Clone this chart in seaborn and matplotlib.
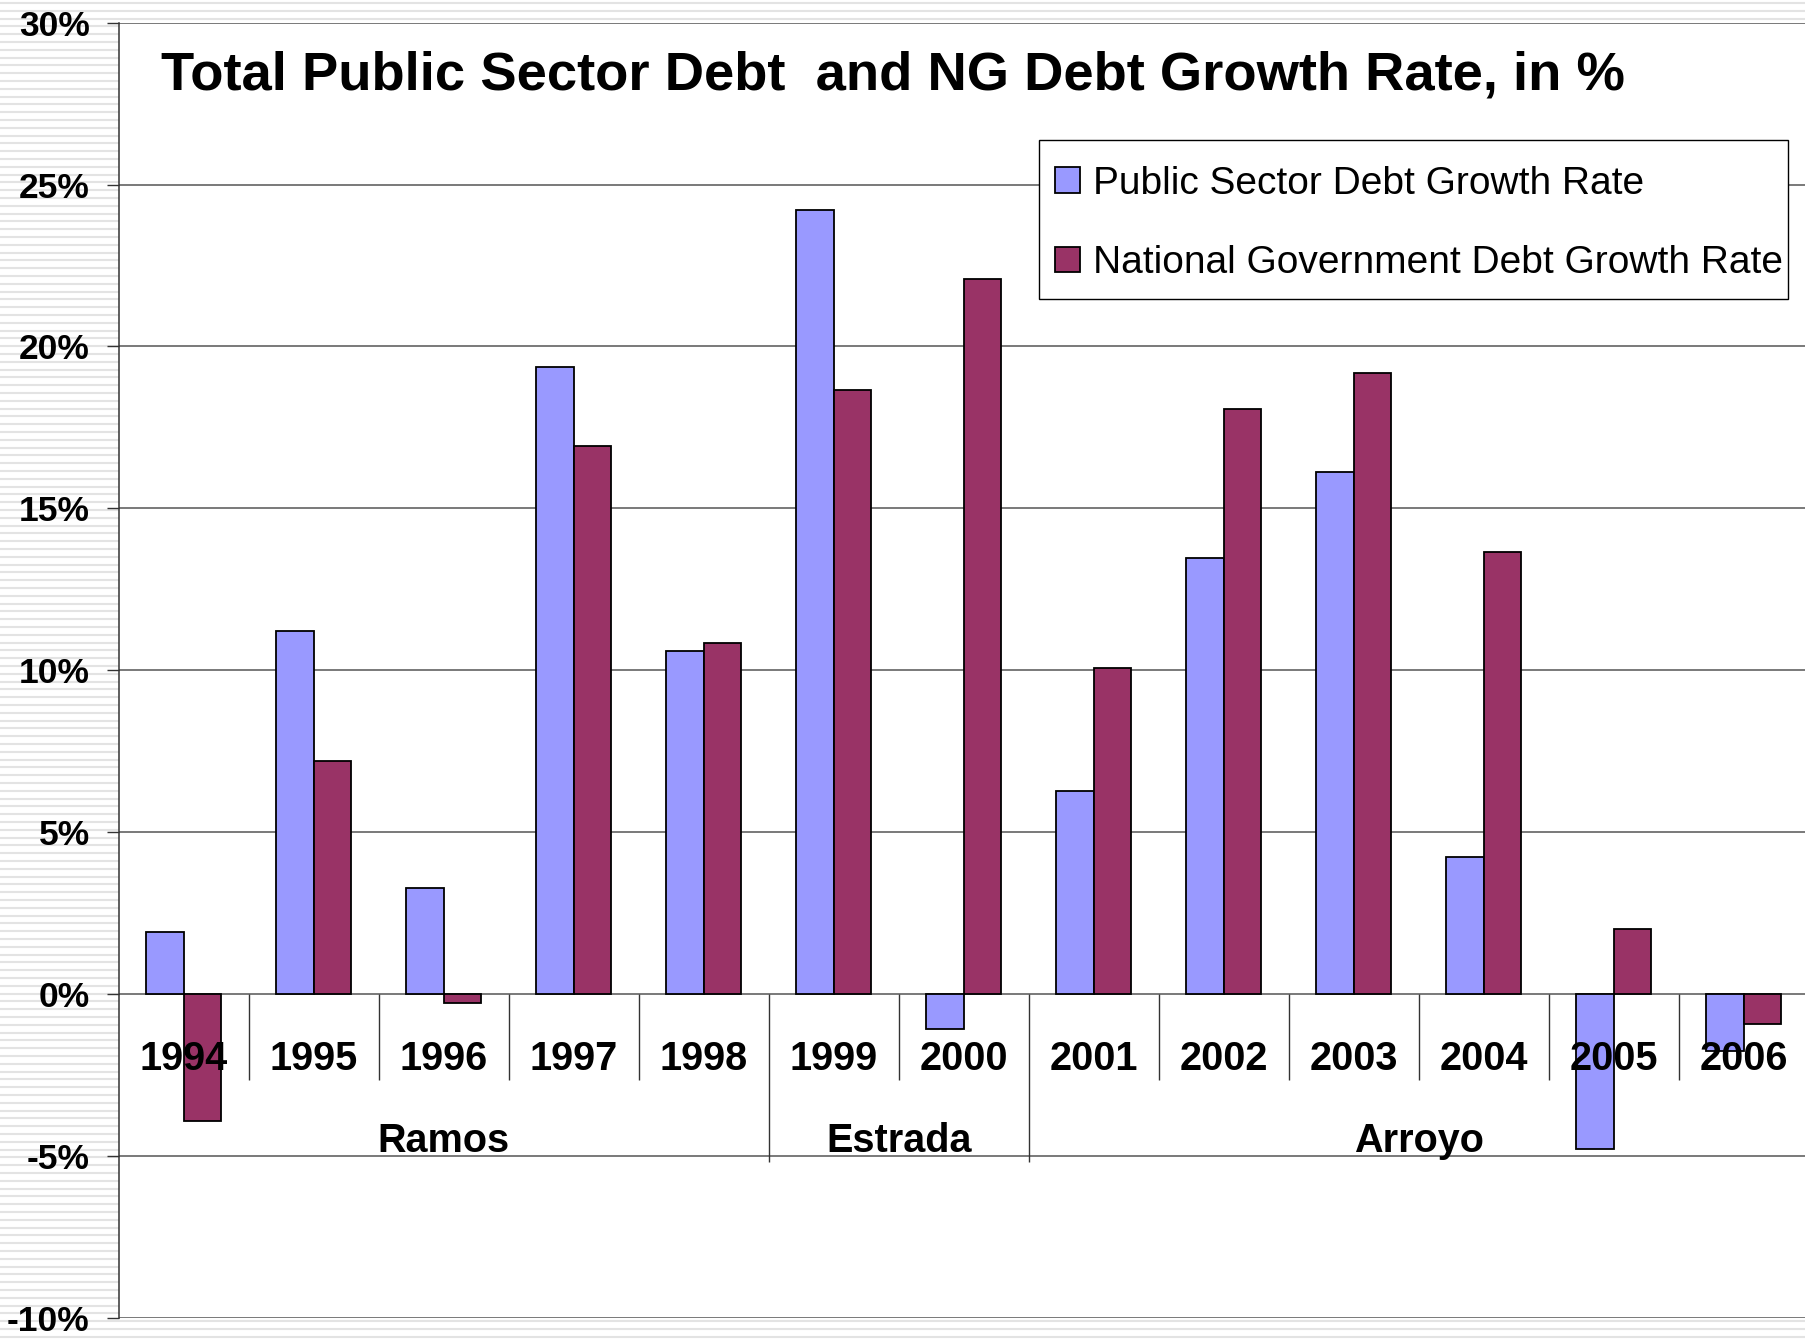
import numpy as np
import pandas as pd
import matplotlib
matplotlib.use("Agg")
import matplotlib.pyplot as plt
import seaborn as sns
from matplotlib.patches import Rectangle
from matplotlib.ticker import FuncFormatter, MultipleLocator

# ---- data -------------------------------------------------------------
years = ["1994", "1995", "1996", "1997", "1998", "1999", "2000",
         "2001", "2002", "2003", "2004", "2005", "2006"]
public_sector_growth = [1.90, 11.22, 3.28, 19.36, 10.58, 24.20, -1.09,
                        6.27, 13.46, 16.13, 4.24, -4.79, -1.77]
national_gov_growth = [-3.92, 7.20, -0.28, 16.94, 10.83, 18.65, 22.07,
                       10.08, 18.08, 19.19, 13.64, 2.01, -0.94]
series_names = ["Public Sector Debt Growth Rate",
                "National Government Debt Growth Rate"]
administrations = ["Ramos", "Estrada", "Arroyo"]
years_per_term = [5, 2, 6]
title = "Total Public Sector Debt  and NG Debt Growth Rate, in %"

df = pd.DataFrame({
    "Year": years * 2,
    "Series": [series_names[0]] * len(years) + [series_names[1]] * len(years),
    "Rate": public_sector_growth + national_gov_growth,
})

# ---- style ------------------------------------------------------------
sns.set_theme(style="white")
plt.rcParams["font.family"] = ["Liberation Sans", "DejaVu Sans"]
plt.rcParams["text.color"] = "black"
plt.rcParams["ytick.color"] = "black"
plt.rcParams["xtick.color"] = "black"

W, H = 1806, 1340
fig = plt.figure(figsize=(W / 100, H / 100), dpi=100)
fig.patch.set_facecolor("white")

# striped slide background
bg = fig.add_axes([0, 0, 1, 1], zorder=-10)
bg.set_xlim(0, 1)
bg.set_ylim(H, 0)
bg.axis("off")
bg.hlines(np.arange(3.0, H, 7.8), 0, 1, color="#e3e3e3", lw=1.5)

# plot area in pixel geometry
left_px, top_px, bottom_px, right_px = 118.7, 22.7, 1317.7, 1808.7
ax = fig.add_axes([left_px / W, (H - bottom_px) / H,
                   (right_px - left_px) / W, (bottom_px - top_px) / H])
ax.set_facecolor("white")

blue, maroon = "#9999FF", "#993366"
sns.barplot(data=df, x="Year", y="Rate", hue="Series", order=years,
            hue_order=series_names, palette=[blue, maroon], saturation=1,
            width=0.58, edgecolor="black", linewidth=1.3, errorbar=None,
            ax=ax, zorder=3)

# ---- axes -------------------------------------------------------------
ax.set_ylim(-10, 30)
ax.set_xlim(-0.5, len(years) - 0.5)
ax.yaxis.set_major_locator(MultipleLocator(5))
ax.yaxis.set_major_formatter(FuncFormatter(lambda v, _: f"{v:.0f}%"))
ax.yaxis.grid(True, color="#555555", lw=1.1, zorder=0)
ax.set_axisbelow(True)
ax.tick_params(axis="y", which="major", left=True, direction="out",
               length=8.4, width=1.0, color="#333333", pad=12.5,
               labelsize=25.5, labelcolor="black")
for lab in ax.get_yticklabels():
    lab.set_fontweight("bold")
ax.tick_params(axis="x", bottom=False, labelbottom=False)
ax.set_xlabel("")
ax.set_ylabel("")
for side in ["top", "right", "bottom"]:
    ax.spines[side].set_visible(False)
ax.spines["left"].set_color("#333333")
ax.spines["left"].set_linewidth(1.1)

# year labels and category separators below the zero line
for i, yr in enumerate(years):
    ax.text(i, -2.34, yr, ha="center", va="baseline", fontsize=28.5,
            fontweight="bold", color="black", zorder=6)

boundaries = np.cumsum(years_per_term)[:-1]
for k in range(1, len(years)):
    low = -5.18 if k in boundaries else -2.67
    ax.plot([k - 0.5, k - 0.5], [0, low], color="#333333", lw=1.0,
            zorder=4, solid_capstyle="butt")

start = 0
for name, n in zip(administrations, years_per_term):
    centre = start + (n - 1) / 2
    ax.text(centre, -4.89, name, ha="center", va="baseline", fontsize=28.5,
            fontweight="bold", color="black", zorder=6)
    start += n

# ---- legend -----------------------------------------------------------
# boxed legend panel (frame drawn separately for uneven inner margins)
frame = Rectangle((1038.5 / W, 1 - 299 / H), (1788 - 1038.5) / W,
                  (299 - 140) / H, transform=fig.transFigure,
                  facecolor="white", edgecolor="black", lw=1.0,
                  clip_on=False, zorder=9)
ax.add_artist(frame)

sns.move_legend(ax, loc="upper left",
                bbox_to_anchor=(1055 / W, 1 - 165.5 / H),
                bbox_transform=fig.transFigure, title=None, frameon=False,
                fontsize=28, handlelength=0.64, handleheight=0.64,
                handletextpad=0.33, labelspacing=1.12, borderpad=0,
                borderaxespad=0)
leg = ax.get_legend()
leg.set_zorder(10)

# ---- title ------------------------------------------------------------
fig.text(160.7 / W, 1 - 89.3 / H, title, ha="left", va="baseline",
         fontsize=39.2, fontweight="bold", color="black")

fig.savefig("out.png", dpi=100, facecolor=fig.get_facecolor())
